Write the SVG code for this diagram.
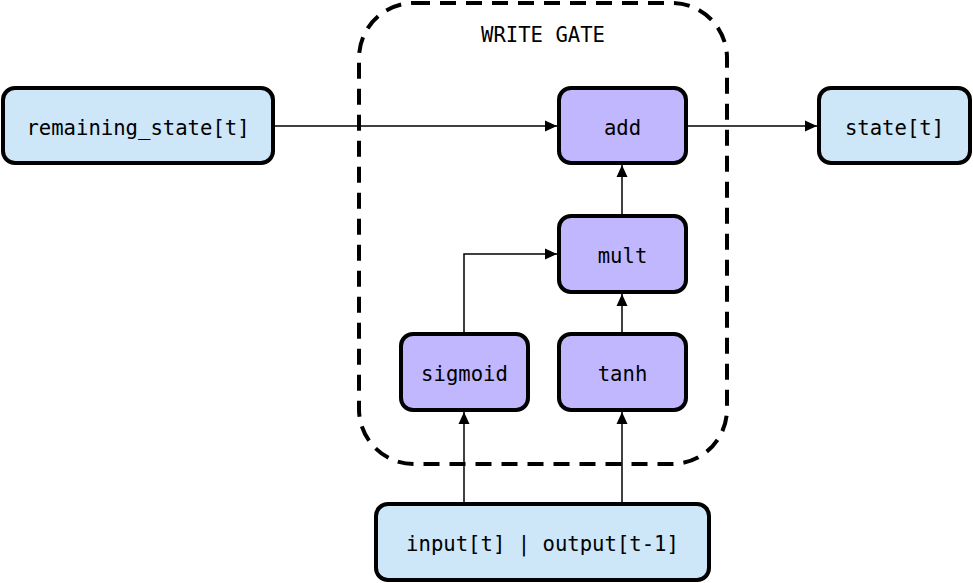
<svg xmlns="http://www.w3.org/2000/svg" width="973" height="583" viewBox="0 0 973 583">
<style>
.io{fill:#cde6f8;stroke:#000;stroke-width:4}
.op{fill:#c1b7ff;stroke:#000;stroke-width:4}
text{font-family:"DejaVu Sans Mono","Liberation Mono",monospace;font-size:20.6px;fill:#000;text-anchor:middle;dominant-baseline:central}
.e{fill:none;stroke:#000;stroke-width:1.5}
</style>
<defs>
<marker id="a" viewBox="0 0 12 12" refX="12" refY="6" markerWidth="12" markerHeight="12" markerUnits="userSpaceOnUse" orient="auto"><path d="M0,0.5L12,6L0,11.5z" fill="#000"/></marker>
</defs>
<rect width="973" height="583" fill="#fff"/>
<g id="write_gate">
<rect x="359" y="3" width="368" height="461" rx="55" fill="none" stroke="#000" stroke-width="4" stroke-dasharray="16,10"/>
<text x="543" y="35">WRITE GATE</text>
</g>
<g id="edges">
<path class="e" d="M273,126H557" marker-end="url(#a)"/>
<path class="e" d="M686,126H817" marker-end="url(#a)"/>
<path class="e" d="M622,216V165" marker-end="url(#a)"/>
<path class="e" d="M622,334V294" marker-end="url(#a)"/>
<path class="e" d="M464,334V254H557" marker-end="url(#a)"/>
<path class="e" d="M464,504V412" marker-end="url(#a)"/>
<path class="e" d="M622,504V412" marker-end="url(#a)"/>
</g>
<g id="remaining_state"><rect class="io" x="3" y="88" width="270" height="75" rx="12"/><text x="138" y="128">remaining_state[t]</text></g>
<g id="state"><rect class="io" x="819" y="88" width="151" height="75" rx="12"/><text x="894.5" y="128">state[t]</text></g>
<g id="add"><rect class="op" x="559" y="88" width="127" height="75" rx="12"/><text x="622.5" y="128">add</text></g>
<g id="mult"><rect class="op" x="559" y="216" width="127" height="76" rx="12"/><text x="622.5" y="256">mult</text></g>
<g id="sigmoid"><rect class="op" x="401" y="334" width="127" height="76" rx="12"/><text x="464.5" y="374">sigmoid</text></g>
<g id="tanh"><rect class="op" x="559" y="334" width="127" height="76" rx="12"/><text x="622.5" y="374">tanh</text></g>
<g id="input"><rect class="io" x="376" y="504" width="333" height="76" rx="12"/><text x="542.5" y="544">input[t] | output[t-1]</text></g>
</svg>
